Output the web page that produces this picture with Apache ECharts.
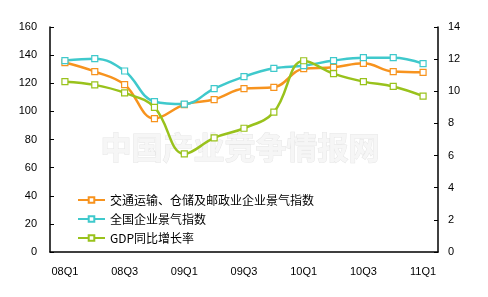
<!DOCTYPE html>
<html><head><meta charset="utf-8">
<script src="https://cdn.jsdelivr.net/npm/echarts@6/dist/echarts.min.js"></script>
<style>html,body{margin:0;padding:0;background:#fff}#c{width:488px;height:297px}</style>
</head><body><div id="c"></div>
<script>
var categories = ['08Q1','08Q2','08Q3','08Q4','09Q1','09Q2','09Q3','09Q4','10Q1','10Q2','10Q3','10Q4','11Q1'];
var transportIndex = [134.7,128.3,119.0,94.9,104.8,108.4,116.2,117.1,130.4,131.3,134.2,128.3,127.8];
var nationalIndex = [136.1,137.5,128.7,106.9,105.2,116.2,124.7,130.6,132.5,136.1,138.2,138.2,134.0];
var gdpGrowth = [10.6,10.4,9.9,9.0,6.1,7.1,7.7,8.7,11.9,11.1,10.6,10.3,9.7];
var seriesNames = ['交通运输、仓储及邮政业企业景气指数','全国企业景气指数','GDP同比增长率'];

var chart = echarts.init(document.getElementById('c'), null, {renderer:'canvas'});
var font = 'Liberation Sans, Arial, sans-serif';
function lineSeries(name, data, color, yIdx){
  return {name:name, type:'line', data:data, yAxisIndex:yIdx, smooth:0.4,
    symbol:'rect', symbolSize:6, showSymbol:true,
    lineStyle:{color:color, width:2.5},
    itemStyle:{color:'#fff', borderColor:color, borderWidth:1.2},
    emphasis:{disabled:true}, z: yIdx===1?3:2};
}
chart.setOption({
  animation:false,
  backgroundColor:'#fff',
  graphic:[{type:'text', left:100, top:131, z:0,
    style:{text:'中国产业竞争情报网', fontSize:31, fontWeight:'bold', fontFamily:'Noto Sans CJK SC',
      fill:'#f6f6f6', stroke:'#e6e6e6', lineWidth:1}}],
  grid:{left:50, right:50, top:27, bottom:45},
  legend:{orient:'vertical', left:72, top:189, itemWidth:27, itemHeight:7, itemGap:7,
    textStyle:{fontSize:12, color:'#000', fontFamily:'Noto Sans CJK SC'},
    data:seriesNames},
  xAxis:{type:'category', data:categories, boundaryGap:true,
    axisLine:{lineStyle:{color:'#000', width:1.5}},
    axisTick:{inside:true, length:4, interval:0, lineStyle:{color:'#000'}},
    axisLabel:{interval:1, margin:14, fontSize:11, color:'#000', fontFamily:font},
    splitLine:{show:false}},
  yAxis:[
    {type:'value', min:0, max:160, interval:20, position:'left',
     axisLine:{show:true, lineStyle:{color:'#000', width:1.5}},
     axisTick:{show:true, inside:true, length:4, lineStyle:{color:'#000'}},
     axisLabel:{fontSize:11, color:'#000', margin:13, fontFamily:font},
     splitLine:{show:false}},
    {type:'value', min:0, max:14, interval:2, position:'right',
     axisLine:{show:true, lineStyle:{color:'#000', width:1.5}},
     axisTick:{show:true, inside:true, length:4, lineStyle:{color:'#000'}},
     axisLabel:{fontSize:11, color:'#000', margin:10, fontFamily:font},
     splitLine:{show:false}}
  ],
  series:[
    lineSeries(seriesNames[0], transportIndex, '#F7931E', 0),
    lineSeries(seriesNames[1], nationalIndex, '#3FC9CC', 0),
    lineSeries(seriesNames[2], gdpGrowth, '#99C21C', 1)
  ]
});
</script></body></html>
